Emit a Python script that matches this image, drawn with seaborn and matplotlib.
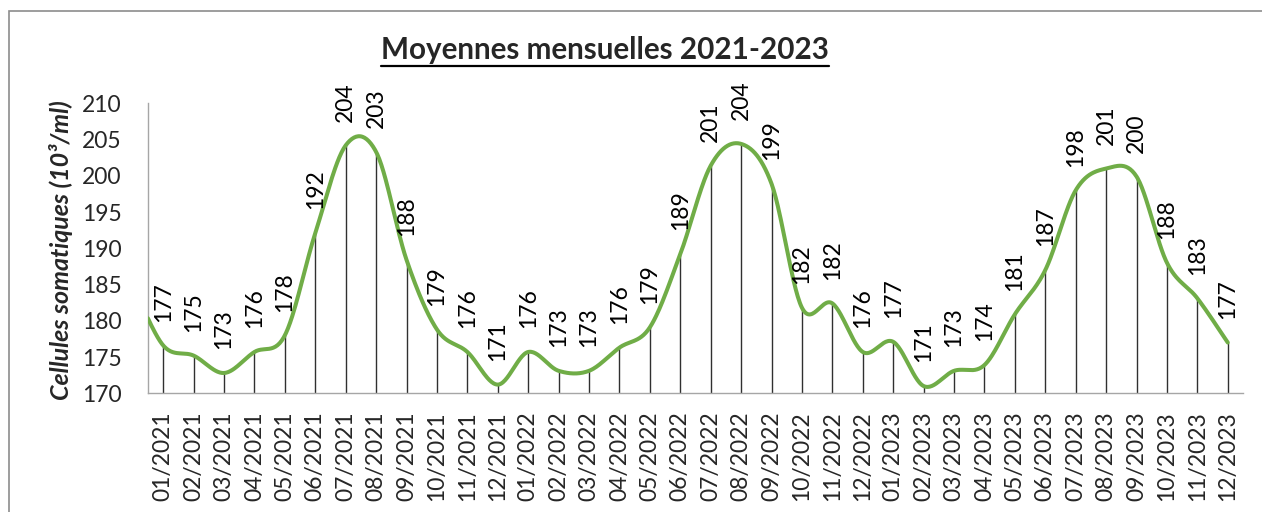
import matplotlib.pyplot as plt
import matplotlib.patches as mpatches
from matplotlib.lines import Line2D
import numpy as np
import pandas as pd
import seaborn as sns

# monthly means, somatic cells (10^3/ml)
months = [f"{m:02d}/{y}" for y in (2021, 2022, 2023) for m in range(1, 13)]
values = [176.6, 175.2, 172.8, 175.7, 178.0, 192.1, 204.2, 203.3, 188.4, 178.8, 175.7, 171.2,
          175.7, 173.1, 173.1, 176.3, 179.1, 189.2, 201.4, 204.4, 198.9, 181.8, 182.4, 175.7,
          177.1, 171.0, 173.1, 173.9, 180.9, 187.0, 198.0, 201.0, 199.9, 188.0, 183.1, 177.0]
prev_value = 185.0  # 12/2020, outside the plotted range (curve enters from the left)

title = "Moyennes mensuelles 2021-2023"
ylabel = "Cellules somatiques (10³/ml)"

GREEN = "#70AD47"
GRID = "#A6A6A6"
FONT = ["Lato", "DejaVu Sans"]


def excel_smooth(xs, ys, n=30):
    # bezier smoothing similar to Excel's "smoothed line"
    p = np.column_stack([xs, ys]).astype(float)
    pad = np.vstack([p[0], p, p[-1]])
    t = np.linspace(0, 1, n)[:, None]
    out = []
    for i in range(len(p) - 1):
        p0, p1, p2, p3 = pad[i], pad[i + 1], pad[i + 2], pad[i + 3]
        c1 = p1 + (p2 - p0) / 6
        c2 = p2 - (p3 - p1) / 6
        seg = (1 - t) ** 3 * p1 + 3 * (1 - t) ** 2 * t * c1 + 3 * (1 - t) * t ** 2 * c2 + t ** 3 * p2
        out.append(seg if i == 0 else seg[1:])
    return np.vstack(out)


df = pd.DataFrame({"month": months, "value": values, "pos": np.arange(len(months))})
curve = excel_smooth(np.r_[-1, df["pos"]], np.r_[prev_value, df["value"]])
curve_df = pd.DataFrame({"x": curve[:, 0], "y": curve[:, 1]})

sns.set_theme(style="white")
plt.rcParams["font.family"] = FONT

fig = plt.figure(figsize=(12.62, 5.12), dpi=100)
ax = fig.add_axes([148 / 1262, 1 - 393.3 / 512, (1243 - 148) / 1262, (393.3 - 103.3) / 512])

ax.vlines(df["pos"], 170, df["value"], color="#303030", lw=1.0, zorder=1)
sns.lineplot(data=curve_df, x="x", y="y", sort=False, estimator=None,
             color=GREEN, lw=2.9, ax=ax, zorder=3)

for p, v in zip(df["pos"], df["value"]):
    ax.annotate(f"{v:.0f}", (p, v), xytext=(0, 17), textcoords="offset points",
                rotation=90, ha="center", va="bottom", fontsize=16.5, color="black")

ax.set_xlim(-0.5, len(months) - 0.5)
ax.set_ylim(170, 210)
ax.set_yticks(np.arange(170, 211, 5))
ax.set_xticks(df["pos"])
ax.set_xticklabels(df["month"], rotation=90, fontsize=16.5)
ax.tick_params(axis="y", direction="in", length=6, width=1, color=GRID, pad=19, labelsize=16.5)
ax.tick_params(axis="x", length=0, pad=13)
ax.set_xlabel("")
ax.set_ylabel("")
for side in ["top", "right"]:
    ax.spines[side].set_visible(False)
for side in ["left", "bottom"]:
    ax.spines[side].set_color(GRID)
    ax.spines[side].set_linewidth(1.0)

fig.text(61 / 1262, 1 - 250 / 512, ylabel, rotation=90, ha="center", va="center",
         fontsize=18, fontweight="bold", fontstyle="italic")
t = fig.text(605 / 1262, 1 - 50 / 512, title, ha="center", va="center",
             fontsize=21.3, fontweight="bold")

# underline the title
fig.canvas.draw()
bb = t.get_window_extent(fig.canvas.get_renderer())
fig.add_artist(Line2D([bb.x0 / 1262, bb.x1 / 1262], [(bb.y0 - 2) / 512] * 2,
                      transform=fig.transFigure, color="black", lw=1.6))

# chart border (only top and left visible in the crop)
fig.add_artist(mpatches.Rectangle((8.5 / 1262, -0.2), 1.2, 1.2 - 10.5 / 512,
                                  transform=fig.transFigure, fill=False,
                                  edgecolor="#8C8C8C", lw=1.2))

fig.savefig("out.png", dpi=100)
